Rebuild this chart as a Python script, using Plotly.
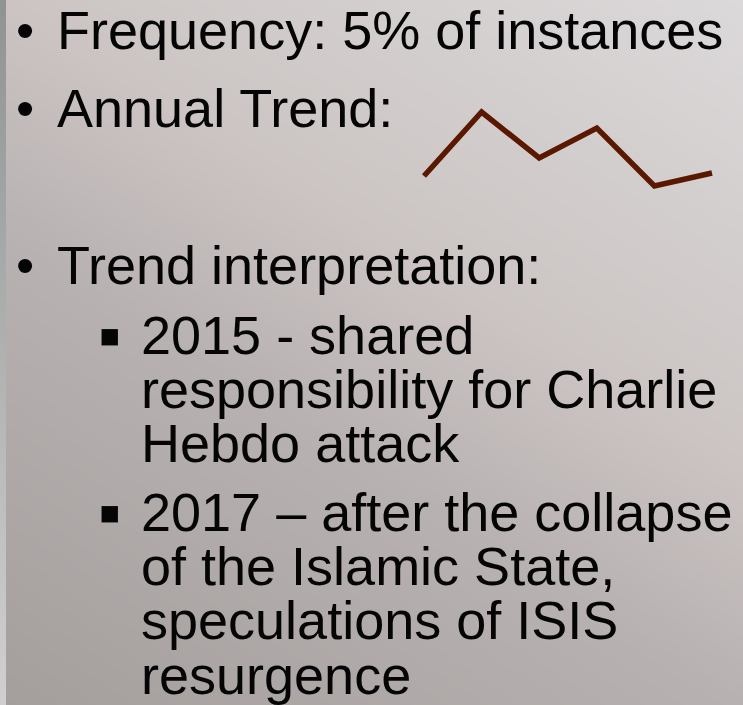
import plotly.graph_objects as go

W, H = 743, 705

# Annual trend sparkline
years = [2012, 2013, 2014, 2015, 2016, 2017]
trend = [24, 88, 42, 72, 14, 27]

# Slide text
lines_l1 = ["Frequency: 5% of instances", "Annual Trend:", "Trend interpretation:"]
lines_l2a = ["2015 - shared", "responsibility for Charlie", "Hebdo attack"]
lines_l2b = ["2017 \u2013 after the collapse", "of the Islamic State,",
             "speculations of ISIS", "resurgence"]

FONT = "Liberation Sans"
SIZE = 54
INK = "#050505"


def py(pix):
    return 1 - pix / H


def px(pix):
    return pix / W


fig = go.Figure()

# background gradient (bilinear heatmap, light top-right to dark bottom-left)
fig.add_trace(go.Heatmap(
    x=[0, W], y=[0, H],
    z=[[0.6, 1.0], [0.0, 0.4]],
    zsmooth="best", showscale=False, hoverinfo="skip",
    colorscale=[[0, "#a49e9d"], [0.4, "#b8b1b1"], [0.6, "#cbc4c3"], [1, "#dcd9da"]],
    zmin=0, zmax=1, xaxis="x", yaxis="y",
))
# narrow grey strip on the left edge
fig.add_trace(go.Scatter(
    x=[0, 6, 6, 0, 0], y=[0, 0, H, H, 0], mode="lines", line=dict(width=0),
    fill="toself", hoverinfo="skip", showlegend=False,
    fillgradient=dict(type="vertical",
                      colorscale=[[0, "#d0d0d0"], [1, "#8f9393"]]),
    xaxis="x", yaxis="y",
))

# sparkline
fig.add_trace(go.Scatter(
    x=years, y=trend, mode="lines",
    line=dict(color="#5a1800", width=5.5),
    hoverinfo="skip", showlegend=False, xaxis="x2", yaxis="y2",
))

ann = []


def add_line(text, left, baseline, size=SIZE, font=FONT):
    bottom = baseline + 0.212 * size + 1
    ann.append(dict(text=text, x=px(left), y=py(bottom), xref="paper", yref="paper",
                    xanchor="left", yanchor="bottom", showarrow=False,
                    font=dict(family=font, size=size, color=INK)))


# level-1 bullets
for t, b in zip(lines_l1, [50, 128, 285]):
    add_line("\u2022", 14, b - 1, size=52)
    add_line(t, 55, b)

# level-2 bullets
for group, bases in [(lines_l2a, [355, 409, 463]), (lines_l2b, [532, 586, 640, 695])]:
    add_line("\u25aa", 96, bases[0] + 4, size=66)
    for t, b in zip(group, bases):
        add_line(t, 139, b)

pad_x = 0.2
pad_y = 8
fig.update_layout(
    width=W, height=H, margin=dict(l=0, r=0, t=0, b=0),
    paper_bgcolor="#c8c2c2", plot_bgcolor="rgba(0,0,0,0)",
    showlegend=False, annotations=ann,
    xaxis=dict(range=[0, W], domain=[0, 1], visible=False, fixedrange=True),
    yaxis=dict(range=[H, 0], domain=[0, 1], visible=False, fixedrange=True),
    xaxis2=dict(range=[years[0] - pad_x, years[-1] + pad_x],
                domain=[px(424 - 57.6 * pad_x), px(712 + 57.6 * pad_x)],
                visible=False, anchor="y2"),
    yaxis2=dict(range=[min(trend) - pad_y, max(trend) + pad_y],
                domain=[py(186 + pad_y), py(112 - pad_y)],
                visible=False, anchor="x2"),
)

fig.write_html("out.html")
